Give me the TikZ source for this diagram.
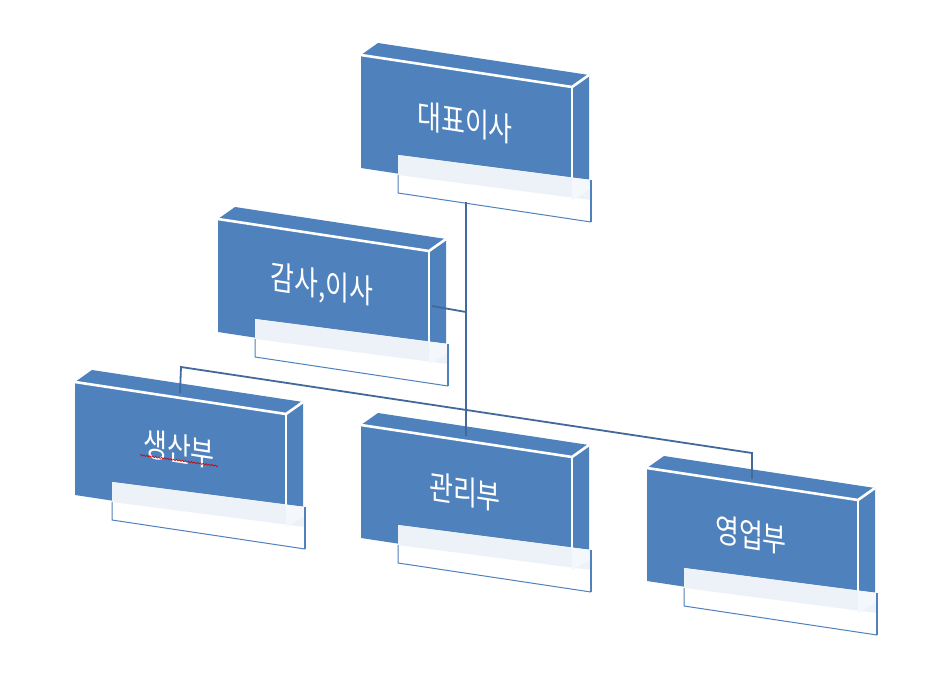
\documentclass[tikz,border=0pt]{standalone}
\usepackage{fontspec}
\newfontfamily\kor{Noto Sans CJK KR}
\usetikzlibrary{decorations.pathmorphing}
\definecolor{boxblue}{HTML}{4F81BD}
\definecolor{linkblue}{HTML}{41699C}
\definecolor{paleblue}{HTML}{EDF2F8}
\tikzset{
  face/.style={fill=boxblue},
  rim/.style={draw=white, line width=2.6pt},
  boxtext/.style={text=white, font=\kor\fontsize{26}{26}\selectfont, yscale=1.28, yslant=-0.12, inner sep=0pt},
  link/.style={draw=linkblue, line width=1.8pt},
}
\newcommand{\orgbox}[4]{%
  \begin{scope}[shift={(#2,#3)}]
    \fill[face] (0,0) -- (17,-12) -- (228,20) -- (211,32) -- cycle;
    \fill[face] (211,32) -- (228,20) -- (228,133) -- (211,145) -- cycle;
    \fill[face] (0,0) -- (211,32) -- (211,145) -- (0,113) -- cycle;
    \draw[rim] (0,0) -- (211,32) -- (228,20);
    \draw[rim] (211,32) -- (211,123);
    \fill[white] (37,100) -- (230,125) -- (230,167) -- (37,138) -- cycle;
    \fill[paleblue] (37,100) -- (230,125) -- (230,145) -- (37,120) -- cycle;
    \fill[paleblue!60] (211,123) -- (230,125) -- (230,134) -- (211,145) -- cycle;
    \draw[boxblue, line width=1pt] (37,120) -- (37,138) -- (230,167);
    \draw[boxblue, line width=1.8pt] (230,167) -- (230,125);
    \node[boxtext] (#1) at (104,67) {#4};
    \coordinate (#1-top) at (105,11);
    \coordinate (#1-bot) at (105,147);
    \coordinate (#1-side) at (214,87);
  \end{scope}}

\begin{document}
\begin{tikzpicture}[x=1pt, y=-1pt]
    \useasboundingbox (0,0) rectangle (950,675);

    \orgbox{ceo}{361}{55}{대표이사}
    \orgbox{audit}{218}{219}{감사,이사}
    \orgbox{prod}{75}{382}{생산부}
    \orgbox{admin}{361}{425}{관리부}
    \orgbox{sales}{647}{468}{영업부}

    \coordinate (fork) at (466,312);
    \coordinate (busL) at (181,367);
    \coordinate (busR) at (752,453);
    \draw[link] (ceo-bot) -- (admin-top);
    \draw[link] (audit-side) -- (fork);
    \draw[link] (prod-top) -- (busL) -- (busR) -- (sales-top);

    \draw[red!80!black, line width=0.6pt, decorate, decoration={snake, amplitude=0.7pt, segment length=3pt}] (140,455) -- (218,466);
\end{tikzpicture}
\end{document}
